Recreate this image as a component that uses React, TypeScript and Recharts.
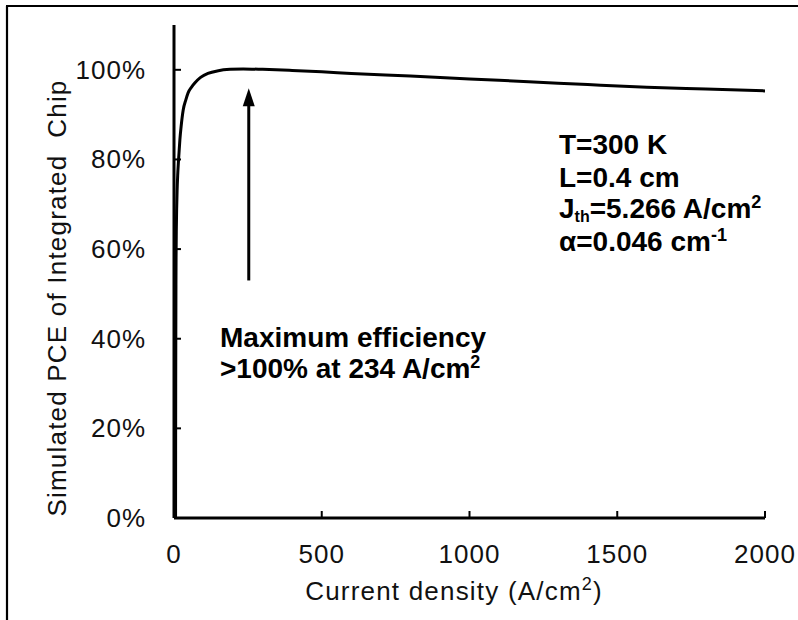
import React from "react";
import { LineChart, Line, XAxis, YAxis, ReferenceLine } from "recharts";

// values
const currentDensity = [
  5.3, 5.5, 5.8, 6.2, 6.6, 7, 8, 9, 10.5, 12.5, 15, 17, 20, 24, 31, 40, 48, 60,
  71, 90, 115, 150, 190, 234, 300, 400, 500, 600, 800, 1000, 1200, 1400, 1600,
  1800, 2000,
];
const pce = [
  0, 15, 30, 42, 52, 58, 65, 69, 73, 76.5, 79.5, 81.5, 84.5, 87.3, 91, 93.3,
  94.9, 96.2, 97.1, 98.3, 99.2, 99.8, 100.1, 100.2, 100.1, 99.85, 99.55, 99.2,
  98.6, 97.95, 97.35, 96.7, 96.1, 95.7, 95.3,
];

const xTicks = [0, 500, 1000, 1500, 2000];
const yTicks = [0, 20, 40, 60, 80, 100];

// arrow pointing at the maximum, in data units
const arrowFrom = { x: 253, y: 53 };
const arrowTo = { x: 253, y: 95.9 };

const data = currentDensity.map((j, i) => ({ j, pce: pce[i] }));

const FONT = "'Liberation Sans', Arial, sans-serif";

const XTick = (props: any) => {
  const { x, y, payload } = props;
  return (
    <g>
      <line x1={x} x2={x} y1={y} y2={y - 7} stroke="#000" strokeWidth={2} />
      <text
        x={x}
        y={y + 45}
        textAnchor="middle"
        fontFamily={FONT}
        fontSize={26}
        letterSpacing={1}
        fill="#111"
      >
        {payload.value}
      </text>
    </g>
  );
};

const YTick = (props: any) => {
  const { x, y, payload } = props;
  return (
    <g>
      <line x1={x} x2={x + 7} y1={y} y2={y} stroke="#000" strokeWidth={2} />
      <text
        x={x - 28}
        y={y + 9}
        textAnchor="end"
        fontFamily={FONT}
        fontSize={26}
        letterSpacing={1}
        fill="#111"
      >
        {payload.value}%
      </text>
    </g>
  );
};

const Arrow = (props: any) => {
  const { x1, y1, x2, y2 } = props;
  return (
    <g>
      <line x1={x1} y1={y1} x2={x2} y2={y2 + 16} stroke="#000" strokeWidth={3} />
      <polygon
        points={`${x2},${y2} ${x2 - 6},${y2 + 18} ${x2 + 6},${y2 + 18}`}
        fill="#000"
      />
    </g>
  );
};

export default function App() {
  const bold = { fontFamily: FONT, fontSize: 28, fontWeight: 700, fill: "#000" };
  return (
    <div
      style={{
        position: "absolute",
        left: 0,
        top: 0,
        width: 798,
        height: 620,
        background: "#fff",
      }}
    >
      <LineChart
        width={798}
        height={620}
        data={data}
        margin={{ top: 25, right: 33, bottom: 0, left: 0 }}
      >
        <XAxis
          type="number"
          dataKey="j"
          domain={[0, 2000]}
          ticks={xTicks}
          interval={0}
          height={102}
          tickSize={0}
          tickMargin={0}
          tickLine={false}
          axisLine={{ stroke: "#000", strokeWidth: 3 }}
          tick={(p: any) => <XTick {...p} />}
        />
        <YAxis
          type="number"
          domain={[0, 110]}
          ticks={yTicks}
          interval={0}
          width={174}
          tickSize={0}
          tickMargin={0}
          tickLine={false}
          axisLine={{ stroke: "#000", strokeWidth: 3 }}
          tick={(p: any) => <YTick {...p} />}
        />
        <ReferenceLine
          segment={[arrowFrom, arrowTo]}
          stroke="#000"
          shape={(p: any) => <Arrow {...p} />}
        />
        <Line
          type="monotone"
          dataKey="pce"
          stroke="#000"
          strokeWidth={3}
          dot={false}
          isAnimationActive={false}
        />
      </LineChart>
      <svg
        width={798}
        height={620}
        style={{ position: "absolute", left: 0, top: 0, pointerEvents: "none" }}
      >
        <line x1={7} y1={6} x2={7} y2={620} stroke="#000" strokeWidth={2.2} />
        <line x1={6} y1={6} x2={798} y2={6} stroke="#000" strokeWidth={2.2} />

        <text
          x={66}
          y={298}
          transform="rotate(-90 66 298)"
          textAnchor="middle"
          fontFamily={FONT}
          fontSize={26}
          letterSpacing={1.2}
          fill="#111"
        >
          Simulated PCE of Integrated{"\u00a0"} Chip
        </text>
        <text
          x={454}
          y={600}
          textAnchor="middle"
          fontFamily={FONT}
          fontSize={26}
          letterSpacing={1.2}
          fill="#111"
        >
          Current density (A/cm
          <tspan dy={-10} fontSize={18}>
            2
          </tspan>
          <tspan dy={10}>)</tspan>
        </text>

        <text x={559} y={154} {...bold}>
          T=300 K
        </text>
        <text x={559} y={187} {...bold}>
          L=0.4 cm
        </text>
        <text x={559} y={218} {...bold}>
          J
          <tspan dy={4} fontSize={16}>
            th
          </tspan>
          <tspan dy={-4}>=5.266 A/cm</tspan>
          <tspan dy={-10} fontSize={18}>
            2
          </tspan>
        </text>
        <text x={559} y={251} {...bold}>
          α=0.046 cm
          <tspan dy={-10} fontSize={18}>
            -1
          </tspan>
        </text>

        <text x={220} y={347} {...bold}>
          Maximum efficiency
        </text>
        <text x={220} y={378} {...bold}>
          &gt;100% at 234 A/cm
          <tspan dy={-10} fontSize={18}>
            2
          </tspan>
        </text>
      </svg>
    </div>
  );
}
